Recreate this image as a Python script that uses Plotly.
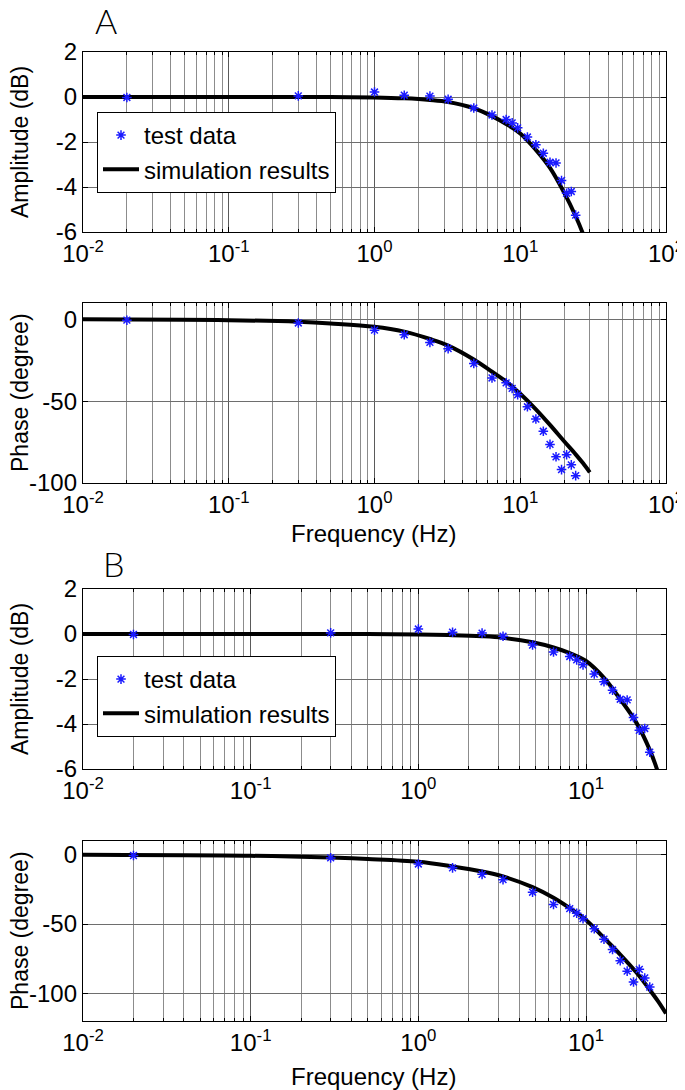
import numpy as np
import plotly.graph_objects as go

# ---------------- data ----------------
freq_test = [0.02, 0.3, 1.0, 1.6, 2.4, 3.2, 4.8, 6.4, 8.0, 8.8, 9.6, 11.2, 12.8, 14.4, 16.0, 17.6, 19.2, 20.8, 22.4, 24.0]
amp_test = [-0.02, 0.05, 0.22, 0.08, 0.04, -0.1, -0.49, -0.8, -1.0, -1.15, -1.37, -1.78, -2.12, -2.5, -2.9, -2.93, -3.71, -4.28, -4.2, -5.25]
phase_test = [-0.5, -2.2, -6.6, -9.4, -14.1, -17.9, -27.0, -35.8, -38.8, -42.2, -46.1, -53.4, -60.9, -68.4, -76.4, -84.0, -91.8, -82.7, -88.9, -95.5]

freq_sim = [0.01, 0.1, 0.3, 0.5, 1.0, 1.6, 2.4, 3.2, 4.8, 6.4, 8.0, 10.0, 12.8, 16.0, 20.0, 24.0, 27.0, 30.0]
amp_sim_A = [0.0, 0.0, 0.0, 0.0, -0.02, -0.06, -0.13, -0.22, -0.5, -0.85, -1.2, -1.62, -2.35, -3.15, -4.25, -5.3, -6.1, -7.0]
phase_sim_A = [0.0, -0.5, -1.5, -2.5, -4.5, -7.5, -12.0, -16.0, -24.5, -32.0, -38.0, -45.5, -55.0, -64.5, -74.5, -82.5, -88.0, -93.5]
amp_sim_B = [0.0, 0.0, 0.0, 0.0, -0.02, -0.05, -0.1, -0.17, -0.37, -0.6, -0.85, -1.2, -1.95, -2.9, -3.95, -5.15, -6.2, -7.5]
phase_sim_B = [0.0, -0.7, -2.0, -3.0, -5.0, -8.4, -12.0, -15.6, -23.3, -31.0, -38.5, -47.0, -60.0, -72.0, -85.0, -97.5, -106.0, -114.6]

x_tickvals = [0.01, 0.1, 1, 10, 100]
x_ticktext = ["10<sup>-2</sup>", "10<sup>-1</sup>", "10<sup>0</sup>", "10<sup>1</sup>", "10<sup>2</sup>"]
amp_ticks = [2, 0, -2, -4, -6]
phase_ticks_A = [0, -50, -100]
phase_ticks_B = [0, -50, -100]

# ---------------- layout geometry ----------------
PAGE_W, PAGE_H = 685, 1090
OFF = 8  # default body margin of the page
W, H = PAGE_W - OFF, PAGE_H - OFF
FONT = "Liberation Sans, Arial, sans-serif"
BLUE = "#1a1aff"


def px(p):
    return (p - OFF) / W


def py(p):
    return 1 - (p - OFF) / H


def ydom(top, bottom):
    return [py(bottom), py(top)]


xdom = [px(83), px(666)]

fig = go.Figure()

panels = [
    ("x", "y", amp_sim_A, amp_test, "legend"),
    ("x2", "y2", phase_sim_A, phase_test, None),
    ("x3", "y3", amp_sim_B, amp_test, "legend2"),
    ("x4", "y4", phase_sim_B, phase_test, None),
]

for xa, ya, sim, test, leg in panels:
    fig.add_trace(go.Scatter(
        x=freq_sim, y=sim, mode="lines", xaxis=xa, yaxis=ya,
        line=dict(color="black", width=4, shape="spline", smoothing=1.0),
        name="simulation results", showlegend=leg is not None,
        legend=leg if leg else "legend", legendrank=2,
    ))
    fig.add_trace(go.Scatter(
        x=freq_test, y=test, mode="markers", xaxis=xa, yaxis=ya,
        marker=dict(symbol="asterisk-open", size=8, color=BLUE,
                    line=dict(color=BLUE, width=1.5)),
        name="test data", showlegend=leg is not None,
        legend=leg if leg else "legend", legendrank=1,
    ))

tickfont = dict(family=FONT, size=24, color="black")


def xaxis(anchor, xmax, domain):
    return dict(
        type="log", range=[-2, np.log10(xmax)], domain=domain, anchor=anchor,
        tickvals=x_tickvals, ticktext=x_ticktext, tickfont=tickfont,
        ticks="inside", ticklen=5, tickcolor="black", tickwidth=1,
        showline=True, linecolor="black", linewidth=1.3, mirror="allticks",
        showgrid=True, gridcolor="#5a5a5a", gridwidth=1,
        minor=dict(ticks="inside", ticklen=3, tickcolor="black", showgrid=True,
                   gridcolor="#8c8c8c", gridwidth=1, dtick="D1"),
        zeroline=False, automargin=False,
    )


def yaxis(anchor, rng, ticks, domain):
    return dict(
        range=rng, domain=domain, anchor=anchor,
        tickvals=ticks, ticktext=[str(t) for t in ticks], tickfont=tickfont,
        ticks="inside", ticklen=5, tickcolor="black",
        showline=True, linecolor="black", linewidth=1.3, mirror="allticks",
        showgrid=True, gridcolor="#6e6e6e", gridwidth=1, zeroline=False,
        automargin=False,
    )


dA1 = ydom(52, 232)
dA2 = ydom(303, 483)
dB1 = ydom(589, 769)
dB2 = ydom(841, 1021)

legend_style = dict(
    xref="paper", yref="paper", xanchor="left", yanchor="top",
    bgcolor="white", bordercolor="black", borderwidth=1,
    font=dict(family=FONT, size=24, color="black"),
    tracegroupgap=0, itemwidth=36,
)

fig.update_layout(
    width=W, height=H, margin=dict(l=0, r=0, t=0, b=0, autoexpand=False),
    paper_bgcolor="white", plot_bgcolor="white",
    font=dict(family=FONT, size=24, color="black"),
    xaxis=xaxis("y", 100, xdom),
    yaxis=yaxis("x", [-6, 2], amp_ticks, dA1),
    xaxis2=xaxis("y2", 100, xdom),
    yaxis2=yaxis("x2", [-100, 10], phase_ticks_A, dA2),
    xaxis3=xaxis("y3", 30, xdom),
    yaxis3=yaxis("x3", [-6, 2], amp_ticks, dB1),
    xaxis4=xaxis("y4", 30, xdom),
    yaxis4=yaxis("x4", [-120, 10], phase_ticks_B, dB2),
    legend=dict(x=px(97), y=py(112), **legend_style),
    legend2=dict(x=px(97), y=py(656), **legend_style),
    showlegend=True,
)

ann_font = dict(family=FONT, size=23, color="black")
annotations = []
for title, top, bottom in [("Amplitude (dB)", 52, 232), ("Phase (degree)", 303, 483),
                           ("Amplitude (dB)", 589, 769), ("Phase (degree)", 841, 1021)]:
    annotations.append(dict(
        text=title, textangle=-90, xref="paper", yref="paper",
        x=px(20), y=py((top + bottom) / 2), xanchor="center", yanchor="middle",
        showarrow=False, font=ann_font,
    ))
for yc in [534, 1076]:
    annotations.append(dict(
        text="Frequency (Hz)", xref="paper", yref="paper",
        x=px(374), y=py(yc), xanchor="center", yanchor="middle",
        showarrow=False, font=dict(family=FONT, size=24, color="black"),
    ))
for letter, xl, yc in [("A", 93, 20), ("B", 101, 563)]:
    annotations.append(dict(
        text=letter, xref="paper", yref="paper",
        x=px(xl), y=py(yc), xanchor="left", yanchor="middle",
        showarrow=False, font=dict(family="Lato, Liberation Sans, sans-serif", size=34, color="black", weight=300),
    ))
fig.update_layout(annotations=annotations)

fig.write_html("out.html")
